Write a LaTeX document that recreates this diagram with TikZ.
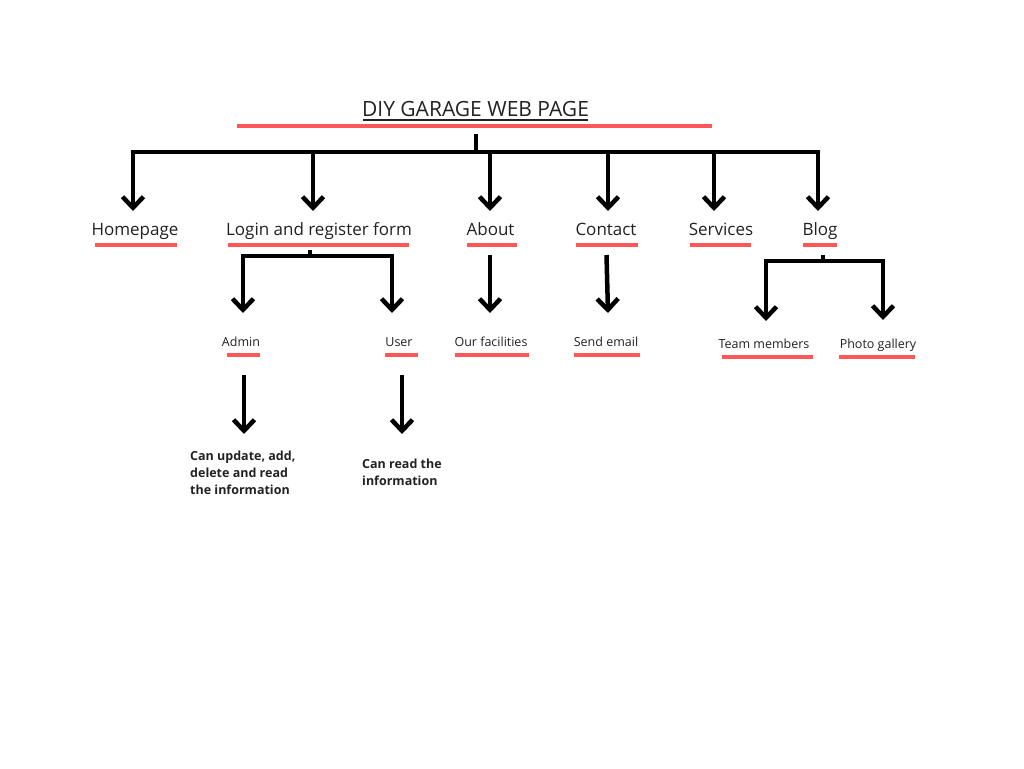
\documentclass[tikz,border=0pt]{standalone}
\usepackage{fontspec}
\setmainfont{Open Sans}
\usetikzlibrary{arrows.meta}
\definecolor{redl}{HTML}{FF5757}
\definecolor{txt}{HTML}{222222}
\tikzset{
  conn/.style={line width=4.5pt, line join=miter, -{Straight Barb[length=11pt,width=21pt,line width=4.5pt]}},
  bar/.style={line width=4.5pt, line cap=butt},
  redline/.style={draw=redl, line width=4.5pt},
  lone/.style={text=txt, font=\fontsize{17}{20}\selectfont, inner sep=0pt, anchor=base},
  ltwo/.style={text=txt, font=\fontsize{12.5}{15}\selectfont, inner sep=0pt, anchor=base},
  lbold/.style={text=txt, font=\fontsize{12.5}{17}\selectfont\bfseries, inner sep=0pt, align=left},
}
\begin{document}
\begin{tikzpicture}[x=1pt,y=-1pt]
\useasboundingbox[fill=white] (0,0) rectangle (1024,768);
% title
\node[text=txt, font=\fontsize{21}{24}\selectfont, inner sep=0pt, anchor=base] (title) at (475.5,116.5) {DIY GARAGE WEB PAGE};
\draw[txt, line width=1.3pt] (363,120) -- (588,120);
\draw[redline] (237,126) -- (712,126);
% level 1 labels
\node[lone] (home) at (135,235.5) {Homepage};
\node[lone] (login) at (319,235.5) {Login and register form};
\node[lone] (about) at (490.5,235.5) {About};
\node[lone] (contact) at (606,235.5) {Contact};
\node[lone] (serv) at (721,235.5) {Services};
\node[lone] (blog) at (820,235.5) {Blog};
\draw[redline] (95,245) -- (177,245);
\draw[redline] (228,245) -- (409,245);
\draw[redline] (467,245) -- (517,245);
\draw[redline] (576,245) -- (638,245);
\draw[redline] (690,245) -- (751,245);
\draw[redline] (803,245) -- (837,245);
% top tree
\coordinate (ts) at (476,134);
\coordinate (tb) at (476,152);
\draw[bar] (ts) -- (tb);
\draw[bar, line cap=round] (133,152) -- (818,152);
\foreach \x/\n in {133/home,313/login,490/about,608/contact,714/serv,818/blog}{
  \draw[conn] (\x,150) -- (\x,211);
}
% level 2 labels
\node[ltwo] (admin) at (241,346) {Admin};
\node[ltwo] (user) at (399,346) {User};
\node[ltwo] (fac) at (491,346) {Our facilities};
\node[ltwo] (mail) at (606,346) {Send email};
\node[ltwo] (team) at (764,348) {Team members};
\node[ltwo] (photo) at (878,348) {Photo gallery};
\draw[redline] (227,355) -- (260,355);
\draw[redline] (385,355) -- (418,355);
\draw[redline] (455,355) -- (529,355);
\draw[redline] (574,355) -- (640,355);
\draw[redline] (722,357) -- (813,357);
\draw[redline] (839,357) -- (915,357);
% login branch
\draw[bar] (310,250) -- (310,256);
\draw[conn] (310,256) -| (243,313);
\draw[conn] (310,256) -| (392,313);
% about / contact
\draw[conn] (490,255) -- (490,313);
\draw[conn] (606.5,255) -- (608,313);
% blog branch
\draw[bar] (823,255) -- (823,261);
\draw[conn] (823,261) -| (766,321);
\draw[conn] (823,261) -| (883,320);
% admin/user arrows
\draw[conn] (244,375) -- (244,434);
\draw[conn] (402,375) -- (402,434);
\node[lbold, anchor=north west] (adt) at (190,451) {Can update, add,\\delete and read\\the information};
\node[lbold, anchor=north west] (ust) at (362,459) {Can read the\\information};
\end{tikzpicture}
\end{document}
